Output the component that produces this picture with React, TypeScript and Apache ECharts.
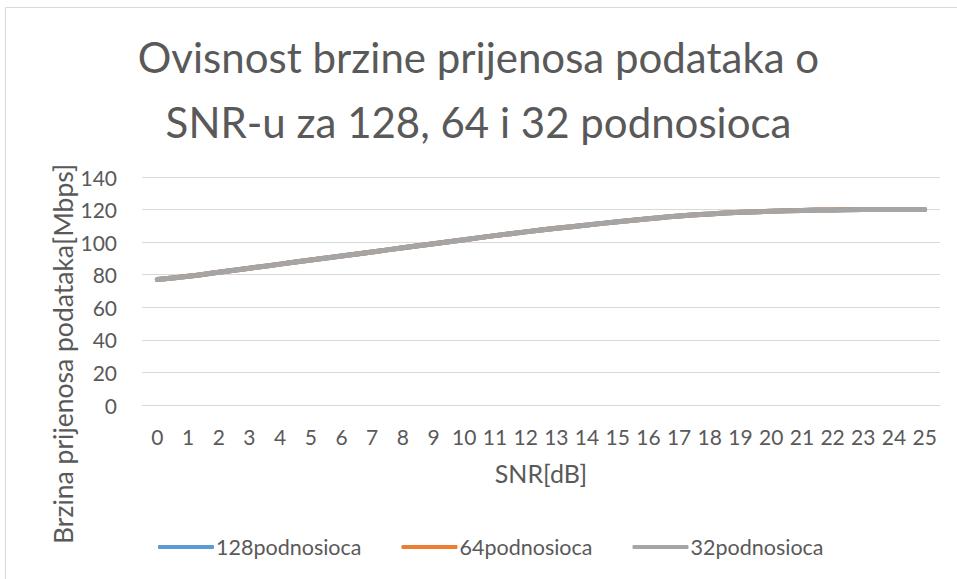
import React, { useEffect, useRef } from "react";
import * as echarts from "echarts";

const categories = Array.from({ length: 26 }, (_, i) => String(i));
const s128 = [77, 79, 81.5, 84, 86.5, 89, 91.5, 94, 96.5, 99, 101.5, 104, 106.3, 108.5, 110.5, 112.5, 114.3, 116, 117.3, 118.3, 119, 119.5, 119.8, 120, 120, 120];
const s64 = [77, 79, 81.5, 84, 86.5, 89, 91.5, 94, 96.5, 99, 101.5, 104, 106.3, 108.5, 110.5, 112.5, 114.3, 116, 117.3, 118.3, 119, 119.5, 119.8, 120, 120, 120];
const s32 = [77, 79, 81.5, 84, 86.5, 89, 91.5, 94, 96.5, 99, 101.5, 104, 106.3, 108.5, 110.5, 112.5, 114.3, 116, 117.3, 118.3, 119, 119.5, 119.8, 120, 120, 120];
const seriesNames = ["128podnosioca", "64podnosioca", "32podnosioca"];
const colors = ["#5B9BD5", "#ED7D31", "#A5A5A5"];
const yAxisName = "Brzina prijenosa podataka[Mbps]";
const xAxisName = "SNR[dB]";

const FONT = "Lato, 'Open Sans', sans-serif";
const TXT = "#595959";

export default function App() {
  const ref = useRef<HTMLDivElement>(null);
  useEffect(() => {
    if (!ref.current) return;
    const chart = echarts.init(ref.current, null, { renderer: "svg" });
    const data = [s128, s64, s32];
    chart.setOption({
      animation: false,
      backgroundColor: "#ffffff",
      textStyle: { fontFamily: FONT },
      graphic: [
        {
          type: "rect",
          shape: { x: 5.5, y: 7.5, width: 1000, height: 700 },
          style: { fill: "none", stroke: "#d9d9d9", lineWidth: 1 },
          silent: true,
        },
        {
          type: "text",
          x: 63,
          y: 354,
          rotation: Math.PI / 2,
          style: {
            text: yAxisName,
            fontFamily: FONT,
            fontSize: 26.5,
            fill: TXT,
            align: "center",
            verticalAlign: "middle",
          },
          silent: true,
        },
      ],
      title: {
        text: "Ovisnost brzine prijenosa podataka o\nSNR-u za 128, 64 i 32 podnosioca",
        left: "center",
        top: 19,
        textStyle: {
          fontFamily: FONT,
          fontSize: 42,
          fontWeight: "normal",
          color: TXT,
          lineHeight: 65,
        },
      },
      legend: {
        data: seriesNames,
        top: 531,
        left: 153,
        icon: "roundRect",
        itemWidth: 56,
        itemHeight: 4,
        itemGap: 40,
        textStyle: { fontFamily: FONT, fontSize: 21.5, color: TXT, padding: [0, 0, 0, -3] },
      },
      grid: { left: 142, right: 17, top: 177, bottom: 174 },
      xAxis: {
        type: "category",
        data: categories,
        boundaryGap: true,
        name: xAxisName,
        nameLocation: "middle",
        nameGap: 55,
        nameTextStyle: { fontFamily: FONT, fontSize: 25, color: TXT },
        axisLine: { show: true, lineStyle: { color: "#d9d9d9" } },
        axisTick: { show: false },
        axisLabel: { fontFamily: FONT, fontSize: 21, color: TXT, margin: 21, interval: 0 },
      },
      yAxis: {
        type: "value",
        min: 0,
        max: 140,
        interval: 20,
        axisLine: { show: false },
        axisTick: { show: false },
        axisLabel: { fontFamily: FONT, fontSize: 21, color: TXT, margin: 25 },
        splitLine: { lineStyle: { color: "#d9d9d9", width: 1 } },
      },
      series: seriesNames.map((name, i) => ({
        name,
        type: "line",
        data: data[i],
        smooth: true,
        showSymbol: false,
        symbol: "none",
        color: colors[i],
        lineStyle: { color: colors[i], width: 5, cap: "round" },
      })),
    });
    return () => chart.dispose();
  }, []);
  return (
    <div
      ref={ref}
      style={{ position: "absolute", left: 0, top: 0, width: 957, height: 579 }}
    />
  );
}
